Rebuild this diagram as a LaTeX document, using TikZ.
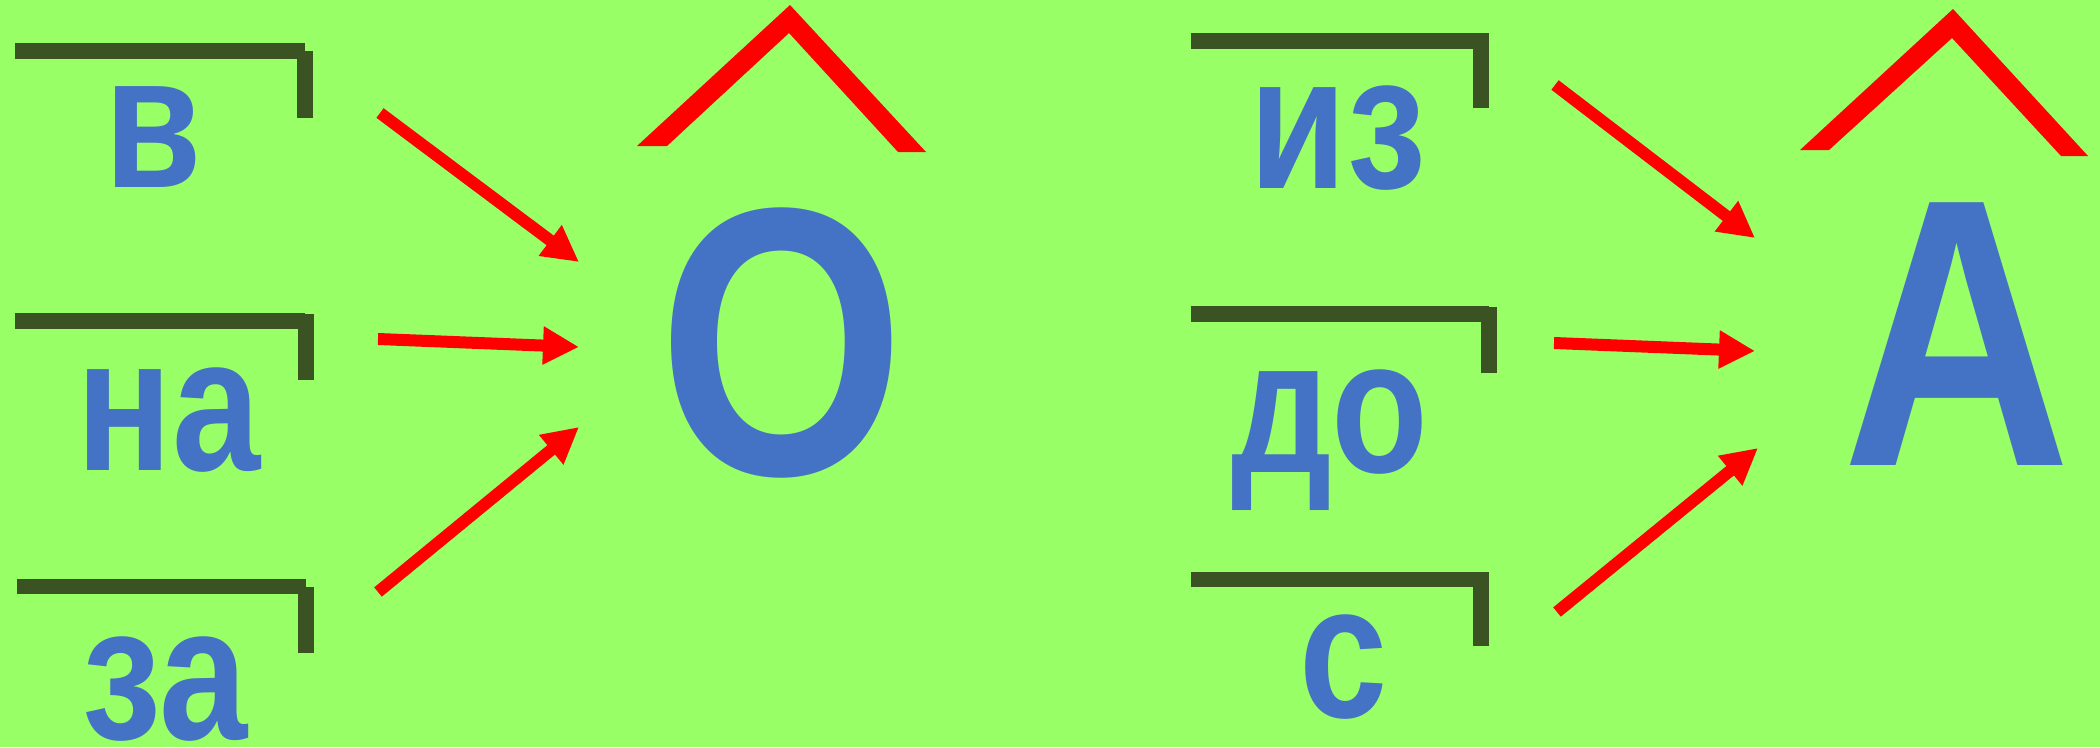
\documentclass[tikz,border=0pt]{standalone}
\usepackage{fontspec}
\setmainfont{Liberation Sans}
\usetikzlibrary{arrows.meta}
\definecolor{bg}{HTML}{99FF66}
\definecolor{brk}{HTML}{3B5323}
\definecolor{txt}{HTML}{4472C4}
\definecolor{arr}{HTML}{FF0000}
\newcommand\smallword[1]{\fontsize{191}{200}\selectfont\bfseries\scalebox{0.83}[1]{#1}}
\newcommand\bigword[1]{\fontsize{382}{400}\selectfont\bfseries\scalebox{0.83}[1]{#1}}
\begin{document}
\begin{tikzpicture}[x=1pt,y=-1pt,
  bar/.style={fill=brk},
  word/.style={inner sep=0pt,outer sep=0pt,anchor=base,text=txt},
  arrowline/.style={draw=arr,line width=12pt,-{Triangle[length=36pt,width=36pt]}},
  hat/.style={fill=arr}]
\fill[bg] (0,0) rectangle (2100,747);
\useasboundingbox (0,0) rectangle (2100,747);
% brackets left
\fill[bar] (15,43) rectangle (305,59);   \fill[bar] (297,51) rectangle (313,118);
\fill[bar] (15,313) rectangle (305,329); \fill[bar] (298,314) rectangle (314,380);
\fill[bar] (17,579) rectangle (306,594); \fill[bar] (298,587) rectangle (314,653);
% brackets right
\fill[bar] (1191,33) rectangle (1489,49);   \fill[bar] (1473,41) rectangle (1489,108);
\fill[bar] (1191,306) rectangle (1489,322); \fill[bar] (1481,307) rectangle (1497,373);
\fill[bar] (1191,572) rectangle (1489,587); \fill[bar] (1473,572) rectangle (1489,646);
% words
\node[word] (v)  at (153.5,187) {\smallword{в}};
\node[word] (na) at (168.5,470) {\smallword{на}};
\node[word] (za) at (165,739)   {\smallword{за}};
\node[word] (iz) at (1338,188)  {\smallword{из}};
\node[word] (do) at (1330,472)  {\smallword{до}};
\node[word] (s)  at (1344,717)  {\smallword{с}};
\node[word] (O)  at (782,474)   {\bigword{О}};
\node[word] (A)  at (1956.5,465) {\bigword{А}};
% hats
\fill[hat] (637,146) -- (790,5) -- (926,152) -- (898,152) -- (789,33) -- (667,146) -- cycle;
\fill[hat] (1800,150) -- (1953,9) -- (2088,156) -- (2061,156) -- (1952,38) -- (1829,150) -- cycle;
% arrows
\coordinate (t1) at (380,113);  \coordinate (h1) at (579,262);
\coordinate (t2) at (378,339);  \coordinate (h2) at (579,347);
\coordinate (t3) at (378,592);  \coordinate (h3) at (579,427);
\coordinate (t4) at (1555,85);  \coordinate (h4) at (1755,238);
\coordinate (t5) at (1554,343); \coordinate (h5) at (1755,351);
\coordinate (t6) at (1557,612); \coordinate (h6) at (1758,448);
\draw[arrowline] (t1) -- (h1);
\draw[arrowline] (t2) -- (h2);
\draw[arrowline] (t3) -- (h3);
\draw[arrowline] (t4) -- (h4);
\draw[arrowline] (t5) -- (h5);
\draw[arrowline] (t6) -- (h6);
\end{tikzpicture}
\end{document}
